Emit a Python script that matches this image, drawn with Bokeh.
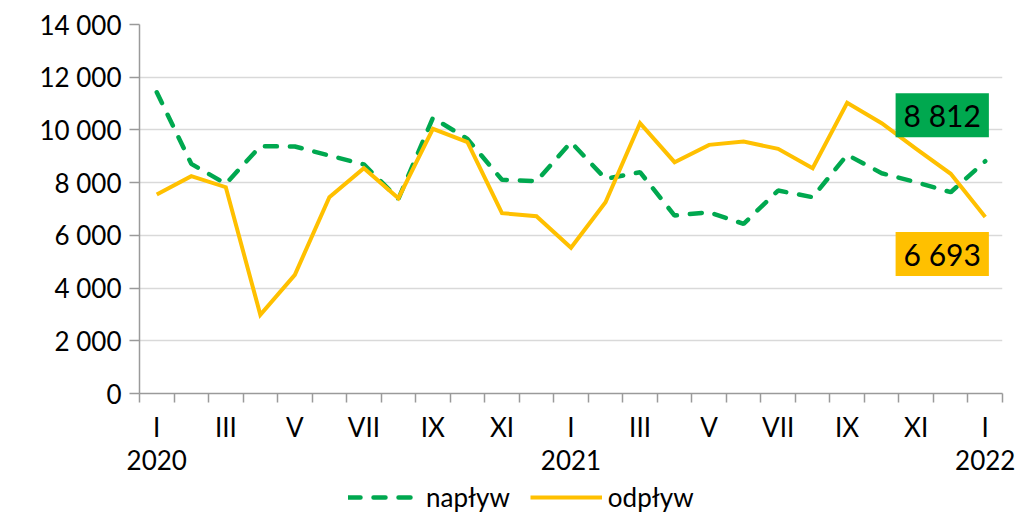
from bokeh.plotting import figure
from bokeh.models import (FixedTicker, LinearAxis, Legend, LegendItem, Range1d)
from bokeh.layouts import column
from bokeh.core.properties import value
from bokeh.embed import file_html
from bokeh.resources import INLINE

months = ["I", "II", "III", "IV", "V", "VI", "VII", "VIII", "IX", "X", "XI", "XII",
          "I", "II", "III", "IV", "V", "VI", "VII", "VIII", "IX", "X", "XI", "XII", "I"]
years = {0: "2020", 12: "2021", 24: "2022"}
naplyw = [11430, 8714, 7955, 9383, 9370, 9030, 8690, 7385, 10460, 9660, 8107, 8055,
          9535, 8145, 8397, 6752, 6878, 6437, 7700, 7448, 9055, 8358, 8017, 7637, 8812]
odplyw = [7549, 8245, 7827, 2985, 4502, 7448, 8548, 7410, 10040, 9535, 6842, 6728,
          5527, 7258, 10255, 8776, 9434, 9560, 9282, 8548, 11028, 10255, 9282, 8335, 6693]
y_ticks = [0, 2000, 4000, 6000, 8000, 10000, 12000, 14000]
series_names = ["napływ", "odpływ"]

GREEN = "#00A84F"
GOLD = "#FFC000"
FONT = "Lato"
FS = "26px"
GREEN_STYLE = dict(line_color=GREEN, line_width=4.5, line_dash="12 13", line_cap="round")
GOLD_STYLE = dict(line_color=GOLD, line_width=4, line_join="miter")

x = list(range(len(months)))

p = figure(width=1019, height=483, output_backend="svg", toolbar_location=None,
           x_range=Range1d(-0.5, len(months) - 0.5), y_range=Range1d(0, 14000),
           x_axis_location=None, y_axis_location="left",
           min_border_left=139, min_border_top=24, min_border_right=17, min_border_bottom=90)
p.outline_line_color = None
p.background_fill_color = "white"
p.border_fill_color = "white"

fmt = lambda v: f"{v:,}".replace(",", " ")

# y axis
ya = p.yaxis[0]
ya.ticker = FixedTicker(ticks=y_ticks)
ya.major_label_overrides = {t: fmt(t) for t in y_ticks}
ya.axis_line_color = "#9A9A9A"
ya.axis_line_width = 1.5
ya.major_tick_line_color = "#9A9A9A"
ya.major_tick_line_width = 1.5
ya.major_tick_out = 10
ya.major_tick_in = 0
ya.minor_tick_line_color = None
ya.major_label_text_font = FONT
ya.major_label_text_font_size = FS
ya.major_label_text_color = "black"
ya.major_label_standoff = 8

p.ygrid.ticker = FixedTicker(ticks=y_ticks)
p.ygrid.grid_line_color = "#D9D9D9"
p.ygrid.grid_line_width = 1.5
p.xgrid.grid_line_color = None

# x axis: months
xa = LinearAxis(ticker=FixedTicker(ticks=list(range(0, len(months), 2)),
                                   minor_ticks=[i - 0.5 for i in range(len(months) + 1)]))
xa.major_label_overrides = {i: months[i] for i in range(0, len(months), 2)}
xa.axis_line_color = "#9A9A9A"
xa.axis_line_width = 1.5
xa.major_tick_line_color = None
xa.major_tick_out = 9
xa.major_tick_in = 0
xa.minor_tick_line_color = "#9A9A9A"
xa.minor_tick_line_width = 1.5
xa.minor_tick_out = 9
xa.minor_tick_in = 0
xa.major_label_text_font = FONT
xa.major_label_text_font_size = FS
xa.major_label_text_color = "black"
xa.major_label_standoff = 8
p.add_layout(xa, "below")

# x axis: years
ya2 = LinearAxis(ticker=FixedTicker(ticks=list(years.keys()), minor_ticks=[]))
ya2.major_label_overrides = years
ya2.axis_line_color = None
ya2.major_tick_line_color = None
ya2.minor_tick_line_color = None
ya2.major_tick_out = 0
ya2.major_tick_in = 0
ya2.major_label_text_font = FONT
ya2.major_label_text_font_size = FS
ya2.major_label_text_color = "black"
ya2.major_label_standoff = 4
p.add_layout(ya2, "below")

p.line(x, naplyw, **GREEN_STYLE)
p.line(x, odplyw, **GOLD_STYLE)

last = len(months) - 1
p.text(x=[last], y=[naplyw[last]], text=[fmt(naplyw[last])], x_offset=-43, y_offset=-46,
       text_align="center", text_baseline="middle", text_font=value(FONT), text_font_size="30px",
       text_color="black", background_fill_color=GREEN,
       padding=dict(left=8, right=8, top=4, bottom=4))
p.text(x=[last], y=[odplyw[last]], text=[fmt(odplyw[last])], x_offset=-43, y_offset=37,
       text_align="center", text_baseline="middle", text_font=value(FONT), text_font_size="30px",
       text_color="black", background_fill_color=GOLD,
       padding=dict(left=8, right=8, top=4, bottom=4))

# legend strip (its series lie outside its visible range; only the legend shows)
pl = figure(width=1019, height=30, output_backend="svg", toolbar_location=None,
            x_range=Range1d(0, 1), y_range=Range1d(0, 1),
            x_axis_location=None, y_axis_location=None,
            min_border_left=0, min_border_right=0, min_border_top=0, min_border_bottom=0)
pl.outline_line_color = None
pl.xgrid.grid_line_color = None
pl.ygrid.grid_line_color = None
pl.background_fill_color = "white"
pl.border_fill_color = "white"
lr1 = pl.line(x, naplyw, **GREEN_STYLE)
lr2 = pl.line(x, odplyw, **GOLD_STYLE)

legend = Legend(items=[LegendItem(label=series_names[0], renderers=[lr1]),
                       LegendItem(label=series_names[1], renderers=[lr2])],
                orientation="horizontal", location=(209, 0))
legend.label_text_font = FONT
legend.label_text_font_size = FS
legend.label_text_color = "black"
legend.glyph_width = 72
legend.glyph_height = 20
legend.label_height = 20
legend.label_standoff = 6
legend.spacing = 20
legend.padding = 0
legend.margin = 0
legend.border_line_color = None
legend.background_fill_color = None
pl.add_layout(legend, "center")

layout = column(p, pl, spacing=0)
open("out.html", "w").write(file_html(layout, INLINE))
